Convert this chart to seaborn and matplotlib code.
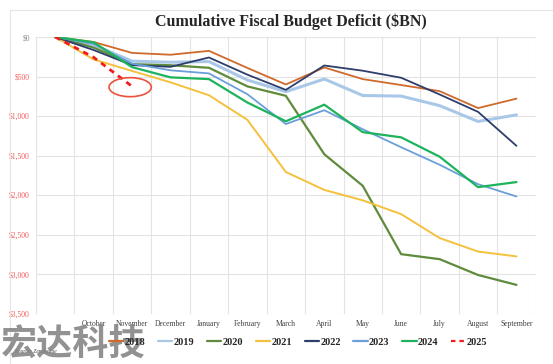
import numpy as np
import pandas as pd
import matplotlib
matplotlib.use("Agg")
import matplotlib.pyplot as plt
from matplotlib.lines import Line2D
from matplotlib.patches import Ellipse
import seaborn as sns

# ------------------------------------
# Data (cumulative deficit, $BN)
# ------------------------------------
months = ["", "October", "November", "December", "January", "February", "March",
          "April", "May", "June", "July", "August", "September"]

deficit_2018 = [0, 63, 201, 224, 175, 391, 600, 385, 532, 607, 684, 898, 779]
deficit_2019 = [0, 100, 305, 319, 310, 544, 691, 531, 739, 747, 867, 1067, 984]
deficit_2020 = [0, 134, 343, 357, 389, 624, 743, 1481, 1880, 2744, 2807, 3007, 3132]
deficit_2021 = [0, 284, 429, 573, 736, 1047, 1706, 1932, 2064, 2238, 2540, 2711, 2772]
deficit_2022 = [0, 165, 356, 377, 259, 476, 668, 360, 426, 515, 726, 946, 1375]
deficit_2023 = [0, 88, 337, 421, 460, 723, 1100, 925, 1165, 1393, 1614, 1860, 2015]
deficit_2024 = [0, 67, 381, 510, 532, 828, 1065, 855, 1202, 1268, 1512, 1897, 1833]
deficit_2025 = [0, 257, 624]

years = ["2018", "2019", "2020", "2021", "2022", "2023", "2024", "2025"]
series = [deficit_2018, deficit_2019, deficit_2020, deficit_2021,
          deficit_2022, deficit_2023, deficit_2024, deficit_2025]

y_ticks = [0, 500, 1000, 1500, 2000, 2500, 3000, 3500]

# ------------------------------------
# Styles
# ------------------------------------
colors = {"2018": "#CF6A2B", "2019": "#A9C8E8", "2020": "#5E8B3C", "2021": "#F4C13C",
          "2022": "#2E3E6C", "2023": "#6A9FDA", "2024": "#1DB35C", "2025": "#F21B1B"}
widths = {"2018": 1.3, "2019": 2.2, "2020": 1.6, "2021": 1.4,
          "2022": 1.3, "2023": 1.3, "2024": 1.6, "2025": 2.0}

rows = []
for yr, vals in zip(years, series):
    for i, v in enumerate(vals):
        rows.append({"year": yr, "idx": i, "deficit": v})
df = pd.DataFrame(rows)

sns.set_theme(style="white")
plt.rcParams["font.family"] = ["Liberation Serif", "DejaVu Serif"]

fig = plt.figure(figsize=(5.53, 3.64), dpi=100)
ax = fig.add_axes([36 / 553, 1 - 314 / 364, (535.7 - 36) / 553, (314 - 37) / 364])

for yr in years:
    sub = df[df["year"] == yr]
    ls = (0, (2.0, 1.8)) if yr == "2025" else "-"
    sns.lineplot(data=sub, x="idx", y="deficit", ax=ax, color=colors[yr],
                 linewidth=widths[yr], linestyle=ls, sort=False, legend=False,
                 zorder=5 if yr == "2025" else 3)

# circle around the latest point
last_i = len(deficit_2025) - 1
ax.add_patch(Ellipse((last_i - 0.05, deficit_2025[-1] + 10), width=1.1, height=240,
                     fill=False, edgecolor="#E9533C", linewidth=1.2, zorder=6))

# ------------------------------------
# Axes
# ------------------------------------
ax.set_xlim(-0.5, len(months) - 0.5)
ax.set_ylim(3500, 0)
ax.set_xticks(range(len(months)))
ax.set_xticklabels(months, fontsize=5.5, color="#404040")
ax.set_xticks(np.arange(-0.5, len(months), 1), minor=True)
ax.set_yticks(y_ticks)
ax.set_yticklabels(["${:,}".format(v) for v in y_ticks], fontsize=5.5)
for lab, v in zip(ax.get_yticklabels(), y_ticks):
    lab.set_color("#8A8A8A" if v == 0 else "#F25B5B")
ax.tick_params(axis="both", which="both", length=0)
ax.tick_params(axis="x", pad=4.5)
ax.tick_params(axis="y", pad=4.5)
ax.grid(False)
ax.grid(True, which="minor", axis="x", color="#E3E3E3", linewidth=0.8)
ax.grid(True, which="major", axis="y", color="#E3E3E3", linewidth=0.8)
ax.set_xlabel("")
ax.set_ylabel("")
for s in ax.spines.values():
    s.set_visible(False)

# ------------------------------------
# Title, legend, frame, annotations
# ------------------------------------
fig.text(291 / 553, 1 - 22 / 364, "Cumulative Fiscal Budget Deficit ($BN)",
         ha="center", va="center", fontsize=11.5, fontweight="bold", color="#262626")

handles = [Line2D([0], [0], color=colors[yr], linewidth=1.6,
                  linestyle=(0, (2.0, 1.8)) if yr == "2025" else "-") for yr in years]
fig.legend(handles, years, loc="center", bbox_to_anchor=(298 / 553, 1 - 342 / 364),
           ncol=8, frameon=False, handlelength=1.4, handletextpad=0.1,
           columnspacing=1.22, prop={"family": "Liberation Serif", "size": 7.5, "weight": "bold"})

fig.add_artist(Line2D([10 / 553, 1.0], [1 - 10 / 364, 1 - 10 / 364],
                      color="#E6E6E6", linewidth=0.8))
fig.add_artist(Line2D([10 / 553, 10 / 553], [0, 1 - 10 / 364],
                      color="#E6E6E6", linewidth=0.8))

fig.text(15 / 553, 1 - 351 / 364, "Source: Zerohedge", fontsize=4, style="italic",
         color="#404040", va="center")
fig.text(1 / 553, 1 - 345 / 364, "宏达科技", fontsize=26, fontweight="bold",
         family=["Noto Sans CJK SC", "DejaVu Sans"], color="#7F7F7F", alpha=0.85,
         va="center", ha="left")

fig.savefig("out.png", dpi=100)
